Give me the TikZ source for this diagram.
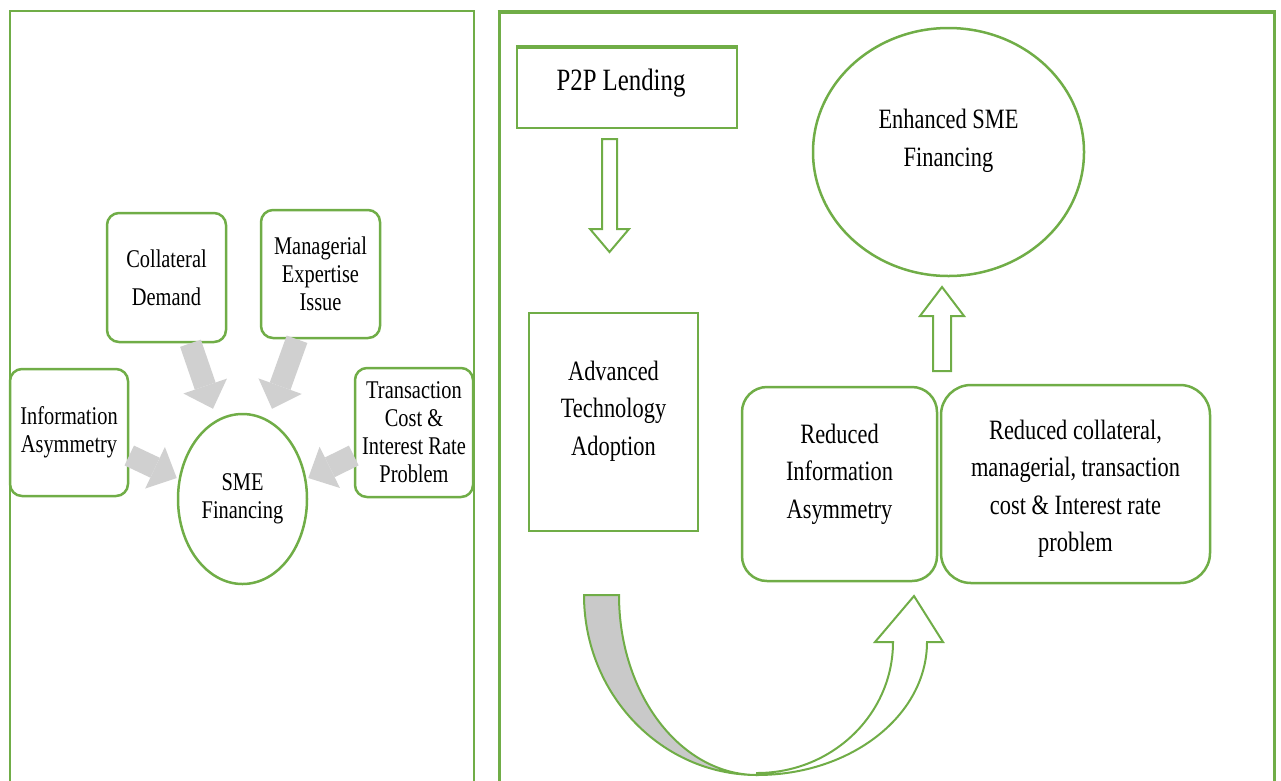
\documentclass[tikz,border=0pt]{standalone}
\usepackage{fontspec}
\setmainfont{Liberation Serif}[FakeStretch=0.8]
\usetikzlibrary{arrows.meta,calc,shapes.geometric}
\definecolor{grn}{HTML}{70AD47}
\definecolor{lgray}{HTML}{D0D0D0}
\definecolor{bgray}{HTML}{C9C9C9}
\newcommand\lfont{\fontsize{25.5}{28}\selectfont}
\newcommand\rfont{\fontsize{28}{37.5}\selectfont}
\newcommand\pfont{\fontsize{31}{37.5}\selectfont}
\begin{document}
\begin{tikzpicture}[x=1pt,y=-1pt,
  panel/.style={draw=grn,line width=2.5pt},
  lbox/.style={draw=grn,line width=2.5pt,rounded corners=12pt,inner sep=0pt,align=center,font=\lfont},
  rbox/.style={draw=grn,line width=2.5pt,inner sep=0pt,align=center,font=\rfont},
  oval/.style={ellipse,draw=grn,line width=2.5pt,inner sep=0pt,align=center},
  txt/.style={inner sep=0pt,align=center,font=\rfont},
  grayarrow/.style={draw=lgray,line width=22pt,-{Triangle[length=24pt,width=46pt,line width=0pt]}},
  hollow/.style={draw=grn,line width=2pt,fill=white,line join=miter},
  curveband/.style={draw=grn,line width=2pt}]
\useasboundingbox (0,0) rectangle (1281,780);
% panels
\draw[panel] (10,800) -- (10,11) -- (474,11) -- (474,800);
\draw[panel,line width=3pt] (499,800) -- (499,12) -- (1274,12) -- (1274,800);
\draw[draw=grn,line width=4pt] (497.5,12) -- (1275.5,12);
% left panel
\node[lbox,minimum width=119pt,minimum height=129pt] (coll) at (166.5,277.5) {Collateral\\[10pt]Demand};
\node[lbox,minimum width=119pt,minimum height=128pt] (man) at (320.5,274) {Managerial\\Expertise\\Issue};
\node[lbox,minimum width=118pt,minimum height=127pt] (info) at (69,432.5) {Information\\Asymmetry};
\node[lbox,minimum width=118pt,minimum height=129pt] (trans) at (414,432.5) {Transaction\\Cost \&\\Interest Rate\\Problem};
\node[oval,minimum width=129pt,minimum height=170pt,font=\lfont] (sme) at (242.5,499) {SME\\Financing};
\draw[grayarrow] ($(coll.south)+(24,0)$) -- ($(sme.north)+(-29.5,-4)$);
\draw[grayarrow] ($(man.south)+(-23.5,0)$) -- ($(sme.north)+(29.5,-4)$);
\draw[grayarrow] ($(info.east)+(0,23)$) -- ($(sme.west)+(0,-21)$);
\draw[grayarrow] ($(trans.west)+(0,23)$) -- ($(sme.east)+(0,-21)$);
% right panel
\node[rbox,minimum width=220pt,minimum height=80pt] (p2p) at (627,88) {};
\draw[draw=grn,line width=3.5pt] (p2p.north west) -- (p2p.north east);
\node[txt,font=\pfont] (p2ptext) at (621,83) {P2P Lending};
\node[rbox,minimum width=169pt,minimum height=218pt] (adv) at (613.5,422) {};
\node[txt] (advtext) at (613.5,411) {Advanced\\Technology\\Adoption};
\node[oval,minimum width=271pt,minimum height=248pt] (enh) at (948.5,152) {};
\node[txt] (enhtext) at (948.5,141) {Enhanced SME\\Financing};
\node[rbox,rounded corners=25pt,minimum width=195pt,minimum height=194pt] (ria) at (839.5,484) {};
\node[txt] (riatext) at (839.5,474) {Reduced\\Information\\Asymmetry};
\node[rbox,rounded corners=30pt,minimum width=269pt,minimum height=198pt] (rcol) at (1075.5,484) {};
\node[txt] (rcoltext) at (1075.5,489) {Reduced collateral,\\managerial, transaction\\cost \& Interest rate\\problem};
% hollow block arrows
\draw[hollow] (602,139) -- (617,139) -- (617,229) -- (629,229) -- (609.5,252) -- (590,229) -- (602,229) -- cycle;
\draw[hollow] (933,371) -- (951,371) -- (951,316) -- (964,316) -- (942,287) -- (920,316) -- (933,316) -- cycle;
% curved arrow
\draw[curveband,fill=white] (757,775) .. controls (850.9,775) and (927,715.5) .. (927,642) -- (943,642) -- (914,596) -- (875,642) -- (893,642) .. controls (893,714.4) and (832.1,773) .. (757,773) -- cycle;
\draw[curveband,fill=bgray] (584,595) -- (619,595) .. controls (619,694.4) and (680.8,775) .. (757,775) .. controls (661.5,775) and (584,694.4) .. (584,595) -- cycle;
\end{tikzpicture}
\end{document}
